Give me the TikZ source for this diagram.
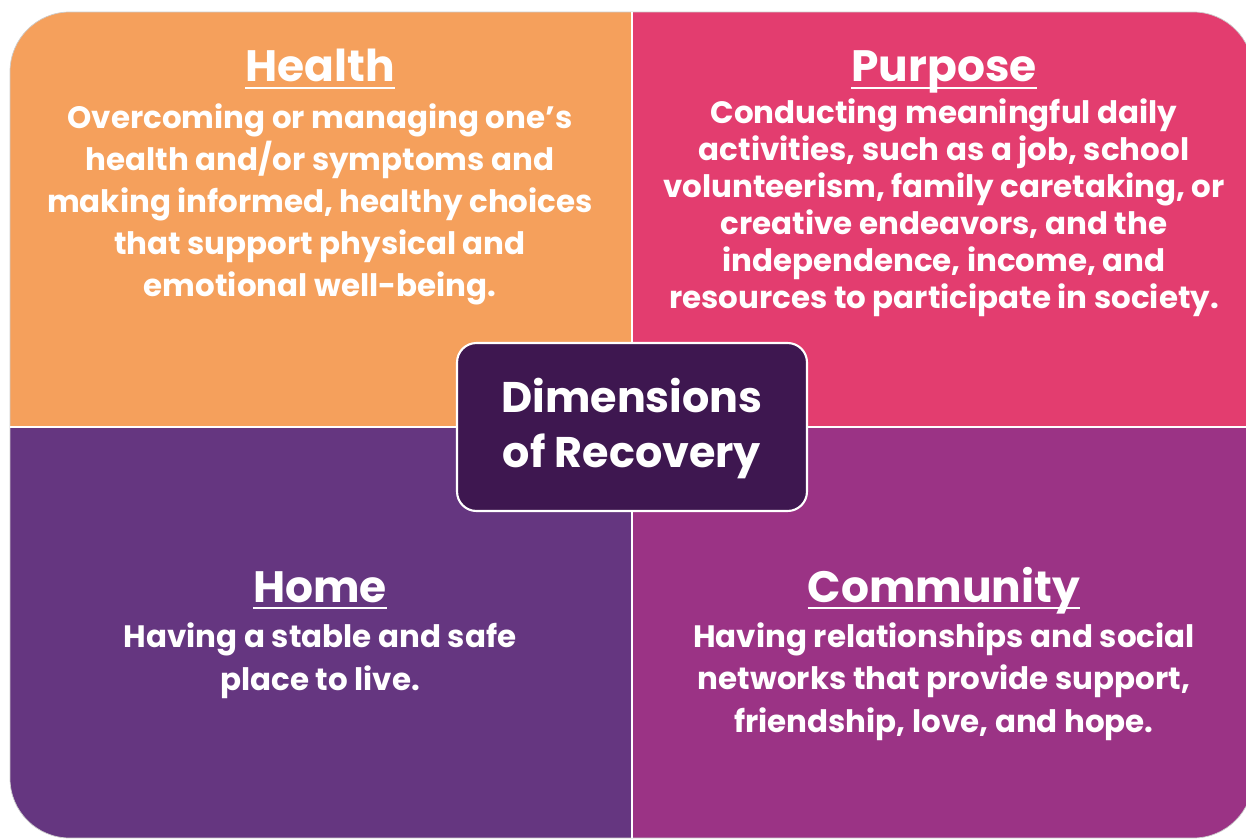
\documentclass[tikz,border=0pt]{standalone}
\usepackage{fontspec}
\setmainfont{Poppins}

\definecolor{healthorange}{HTML}{F5A05C}
\definecolor{purposepink}{HTML}{E33D6F}
\definecolor{homepurple}{HTML}{653680}
\definecolor{communitymagenta}{HTML}{9B3385}
\definecolor{recoveryplum}{HTML}{3E1750}

\begin{document}
\begin{tikzpicture}[x=0.02cm,y=-0.02cm,
    heading/.style={text=white,inner sep=0pt,anchor=base,
      font=\fontsize{25}{30}\selectfont\bfseries},
    blurb/.style={text=white,inner sep=0pt,anchor=base,align=center,
      font=\fontsize{17.6}{23.8}\selectfont\bfseries},
    underline/.style={white,line width=1.3pt}]
  \useasboundingbox (0,0) rectangle (1246,838);

  % the four quarters, cut to one rounded outline
  \begin{scope}
    \clip[rounded corners=34pt] (10,12) rectangle (1253,838);
    \fill[healthorange] (10,12) rectangle (632,427);
    \fill[purposepink] (632,12) rectangle (1253,427);
    \fill[homepurple] (10,427) rectangle (632,838);
    \fill[communitymagenta] (632,427) rectangle (1253,838);
  \end{scope}
  \draw[black!20,line width=0.4pt,rounded corners=34pt] (10,12) rectangle (1253,838);
  \draw[white,line width=1.2pt] (632,12) -- (632,838);
  \draw[white,line width=1.2pt] (10,427) -- (1253,427);

  % headings
  \node[heading] (health) at (320,82) {Health};
  \node[heading] (purpose) at (944,82) {Purpose};
  \node[heading] (home) at (320,602) {Home};
  \node[heading] (community) at (944,602) {Community};
  \foreach \h in {health,purpose,home,community}
    \draw[underline] ([yshift=-3.6pt]\h.base west) -- ([yshift=-3.6pt]\h.base east);

  % texts under the headings (placed by their last line)
  \node[blurb] (healthtext) at (320,296) {Overcoming or managing one’s\\
    health and/or symptoms and\\ making informed, healthy choices\\
    that support physical and\\ emotional well-being.};
  \node[blurb,font=\fontsize{17.6}{21}\selectfont\bfseries] (purposetext) at (944,308)
    {Conducting meaningful daily\\ activities, such as a job, school\\
    volunteerism, family caretaking, or\\ creative endeavors, and the\\
    independence, income, and\\ resources to participate in society.};
  \node[blurb,font=\fontsize{17.6}{24.3}\selectfont\bfseries] (hometext) at (320,690)
    {Having a stable and safe\\ place to live.};
  \node[blurb,font=\fontsize{17.6}{24.1}\selectfont\bfseries] (communitytext) at (944,732)
    {Having relationships and social\\
    networks that provide support,\\ friendship, love, and hope.};

  % middle box
  \node[draw=white,line width=1.2pt,fill=recoveryplum,rounded corners=11pt,
    minimum width=7cm,minimum height=3.36cm] (recovery) at (632,427) {};
  \node[text=white,inner sep=0pt,align=center,anchor=base,
    font=\fontsize{24.4}{31.2}\selectfont\bfseries] (recoverytext) at (632,467)
    {Dimensions\\ of Recovery};
\end{tikzpicture}
\end{document}
